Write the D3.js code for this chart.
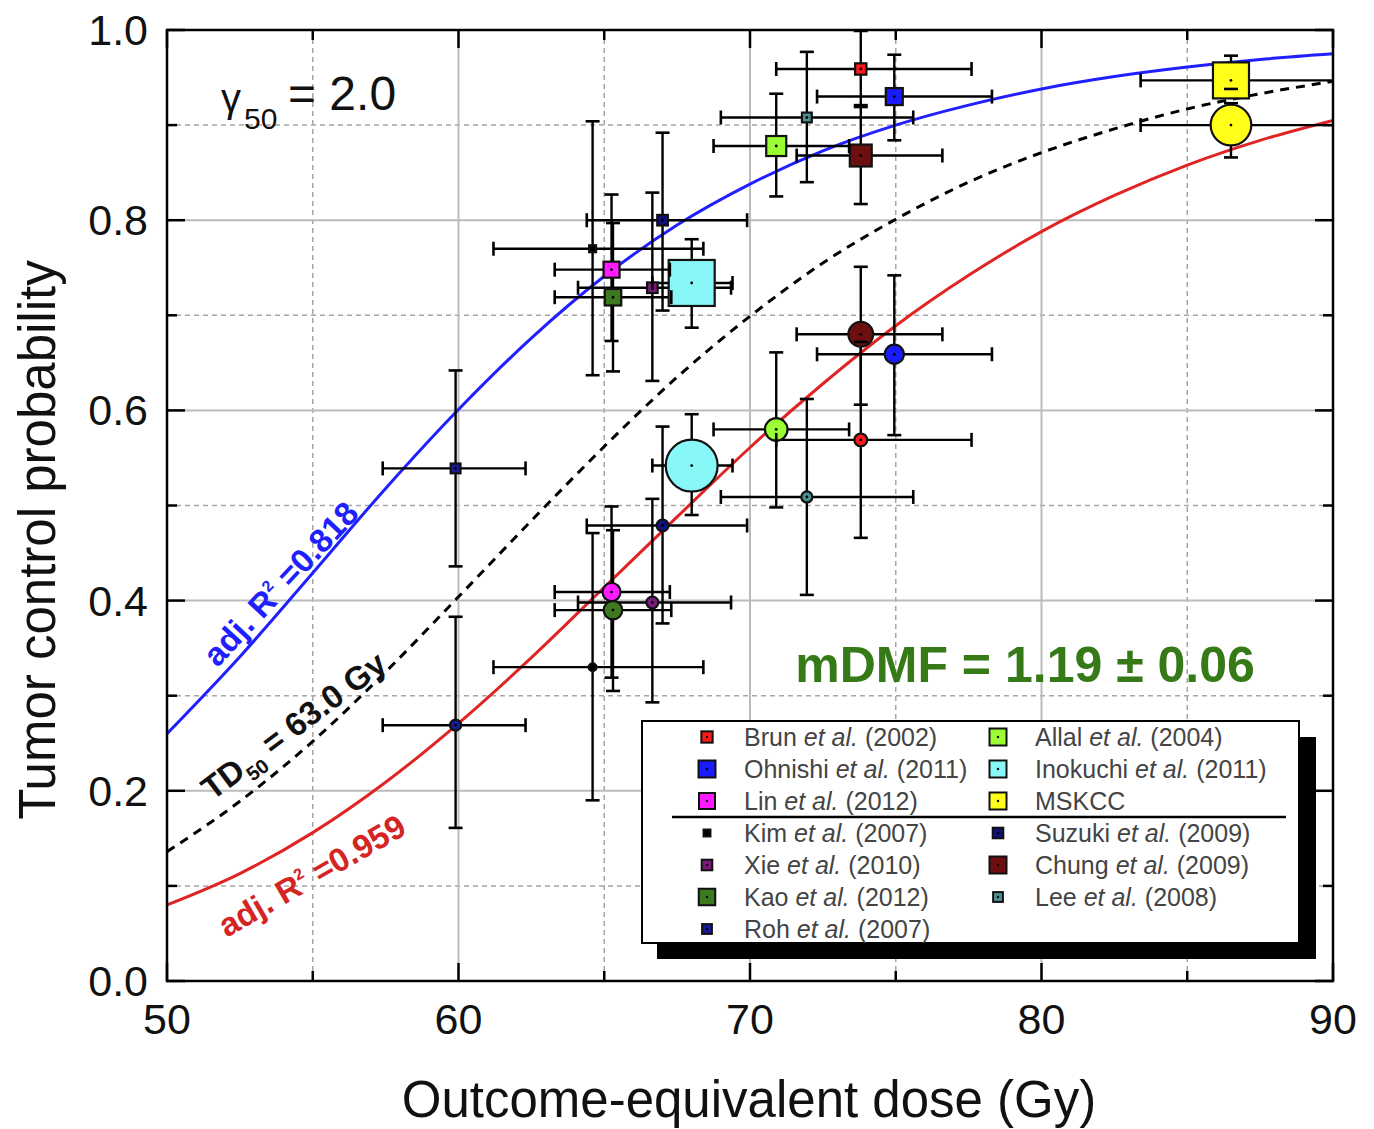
<!DOCTYPE html>
<html>
<head>
<meta charset="utf-8">
<script src="https://cdn.jsdelivr.net/npm/d3@7"></script>
<style>
  body { margin: 0; background: #fff; }
  text { font-family: 'Liberation Sans', Arial, sans-serif; }
</style>
</head>
<body>
<div id="chart"></div>
<script>
// ---- values ----
var studyAuthors = ['Brun', 'Ohnishi', 'Lin', 'Allal', 'Inokuchi', 'MSKCC', 'Kim', 'Xie', 'Kao', 'Roh', 'Suzuki', 'Chung', 'Lee']
var studyYears = ['2002', '2011', '2012', '2004', '2011', '', '2007', '2010', '2012', '2007', '2009', '2009', '2008']
// relative marker weight (symbol area)
var studyWeight = [8, 18, 16, 25, 132, 81, 3, 7, 17, 6, 7, 30, 6]

var doseMean = [73.8, 74.95, 65.25, 70.9, 68.0, 86.5, 64.6, 66.65, 65.3, 59.9, 67.0, 73.8, 71.95]
var doseLow = [70.9, 72.3, 63.3, 68.75, 66.65, 83.4, 61.2, 64.1, 63.3, 57.4, 64.4, 71.6, 69.0]
var doseHigh = [77.6, 78.3, 67.25, 73.4, 69.4, 90.6, 68.4, 69.35, 67.3, 62.3, 69.9, 76.6, 75.6]

// upper set (squares)
var tcpSquare = [0.959, 0.930, 0.748, 0.878, 0.734, 0.947, 0.770, 0.729, 0.719, 0.539, 0.800, 0.868, 0.908]
var tcpSquareLow = [0.919, 0.884, 0.673, 0.825, 0.687, 0.938, 0.637, 0.631, 0.641, 0.436, 0.705, 0.817, 0.840]
var tcpSquareHigh = [0.999, 0.974, 0.827, 0.933, 0.780, 0.973, 0.904, 0.829, 0.797, 0.642, 0.892, 0.921, 0.977]

// lower set (circles)
var tcpCircle = [0.569, 0.659, 0.409, 0.580, 0.542, 0.900, 0.330, 0.398, 0.390, 0.269, 0.479, 0.680, 0.509]
var tcpCircleLow = [0.466, 0.574, 0.319, 0.498, 0.490, 0.866, 0.190, 0.293, 0.305, 0.161, 0.376, 0.606, 0.406]
var tcpCircleHigh = [0.672, 0.742, 0.499, 0.661, 0.596, 0.923, 0.471, 0.507, 0.474, 0.383, 0.583, 0.751, 0.612]

// fitted curves, read every 2.5 Gy
var curveDose = [50, 52.5, 55, 57.5, 60, 62.5, 65, 67.5, 70, 72.5, 75, 77.5, 80, 82.5, 85, 87.5, 90]
var tcpBlueFit = [0.260, 0.341, 0.429, 0.518, 0.601, 0.676, 0.741, 0.795, 0.838, 0.873, 0.900, 0.921, 0.938, 0.951, 0.961, 0.969, 0.975]
var tcpMidFit = [0.136, 0.189, 0.252, 0.325, 0.404, 0.484, 0.562, 0.635, 0.699, 0.755, 0.801, 0.840, 0.871, 0.896, 0.917, 0.933, 0.946]
var tcpRedFit = [0.080, 0.113, 0.156, 0.209, 0.271, 0.340, 0.414, 0.488, 0.561, 0.628, 0.689, 0.742, 0.788, 0.826, 0.858, 0.884, 0.905]

var xTicks = [50, 60, 70, 80, 90]
var xMinor = [55, 65, 75, 85]
var yTicks = [0, 0.2, 0.4, 0.6, 0.8, 1.0]
var yMinor = [0.1, 0.3, 0.5, 0.7, 0.9]

// ---- styles ----
var studyColor = {
  Brun: '#ff1a1a', Ohnishi: '#1a1aff', Lin: '#ff1aff', Allal: '#99ff33',
  Inokuchi: '#88f7f7', MSKCC: '#ffff1a', Kim: '#000000', Xie: '#7a1a7a',
  Kao: '#3d7a1f', Roh: '#1a1a99', Suzuki: '#10107a', Chung: '#6e0f0f', Lee: '#4a9090'
}

var margin = { top: 30, right: 41, bottom: 148, left: 167 }
var width = 1374 - margin.left - margin.right
var height = 1129 - margin.top - margin.bottom

var svg = d3
  .select('#chart')
  .append('svg')
  .attr('width', 1374)
  .attr('height', 1129)

var g = svg.append('g').attr('transform', 'translate(' + margin.left + ',' + margin.top + ')')

var x = d3.scaleLinear().domain([50, 90]).range([0, width])
var y = d3.scaleLinear().domain([0, 1]).range([height, 0])
var sizeScale = d3.scaleSqrt().domain([0, 132]).range([0, 46])

g.append('clipPath').attr('id', 'plot-clip')
  .append('rect').attr('width', width).attr('height', height)

// grid
g.selectAll('.grid-x-minor').data(xMinor).enter().append('line')
  .attr('x1', d => x(d)).attr('x2', d => x(d)).attr('y1', 0).attr('y2', height)
  .attr('stroke', '#a6a6a6').attr('stroke-width', 1.5).attr('stroke-dasharray', '5,4')
g.selectAll('.grid-y-minor').data(yMinor).enter().append('line')
  .attr('y1', d => y(d)).attr('y2', d => y(d)).attr('x1', 0).attr('x2', width)
  .attr('stroke', '#a6a6a6').attr('stroke-width', 1.5).attr('stroke-dasharray', '5,4')
g.selectAll('.grid-x').data(xTicks.slice(1, -1)).enter().append('line')
  .attr('x1', d => x(d)).attr('x2', d => x(d)).attr('y1', 0).attr('y2', height)
  .attr('stroke', '#bbb').attr('stroke-width', 2)
g.selectAll('.grid-y').data(yTicks.slice(1, -1)).enter().append('line')
  .attr('y1', d => y(d)).attr('y2', d => y(d)).attr('x1', 0).attr('x2', width)
  .attr('stroke', '#bbb').attr('stroke-width', 2)

// fit curves
var plot = g.append('g').attr('clip-path', 'url(#plot-clip)')
var line = d3.line().x(d => x(d[0])).y(d => y(d[1])).curve(d3.curveMonotoneX)

plot.append('path').datum(d3.zip(curveDose, tcpBlueFit)).attr('d', line)
  .attr('fill', 'none').attr('stroke', '#2020ff').attr('stroke-width', 3)
plot.append('path').datum(d3.zip(curveDose, tcpRedFit)).attr('d', line)
  .attr('fill', 'none').attr('stroke', '#e02424').attr('stroke-width', 3)
plot.append('path').datum(d3.zip(curveDose, tcpMidFit)).attr('d', line)
  .attr('fill', 'none').attr('stroke', '#000').attr('stroke-width', 3).attr('stroke-dasharray', '9,7')

// build points for both sets
var points = []
studyAuthors.forEach((name, i) => {
  var base = { name: name, dose: doseMean[i], dLo: doseLow[i], dHi: doseHigh[i], size: sizeScale(studyWeight[i]) }
  points.push(Object.assign({ shape: 'square', p: tcpSquare[i], pLo: tcpSquareLow[i], pHi: tcpSquareHigh[i] }, base))
  points.push(Object.assign({ shape: 'circle', p: tcpCircle[i], pLo: tcpCircleLow[i], pHi: tcpCircleHigh[i] }, base))
})

var cap = 7

// error bar lines
points.forEach(d => {
  plot.append('line')
    .attr('x1', x(d.dLo)).attr('x2', x(d.dHi)).attr('y1', y(d.p)).attr('y2', y(d.p))
    .attr('stroke', '#000').attr('stroke-width', 2.4)
  plot.append('line')
    .attr('x1', x(d.dose)).attr('x2', x(d.dose)).attr('y1', y(d.pLo)).attr('y2', y(d.pHi))
    .attr('stroke', '#000').attr('stroke-width', 2.4)
})

// markers, big ones first
var sorted = points.slice().sort((a, b) => b.size - a.size)
sorted.forEach(d => {
  if (d.shape === 'square') {
    plot.append('rect')
      .attr('x', x(d.dose) - d.size / 2).attr('y', y(d.p) - d.size / 2)
      .attr('width', d.size).attr('height', d.size)
      .attr('fill', studyColor[d.name]).attr('stroke', '#111').attr('stroke-width', 2.2)
  } else {
    plot.append('circle')
      .attr('cx', x(d.dose)).attr('cy', y(d.p)).attr('r', d.size / Math.sqrt(Math.PI))
      .attr('fill', studyColor[d.name]).attr('stroke', '#111').attr('stroke-width', 2.2)
  }
})

// caps and centre dots
points.forEach(d => {
  [d.dLo, d.dHi].forEach(v => {
    plot.append('line')
      .attr('x1', x(v)).attr('x2', x(v)).attr('y1', y(d.p) - cap).attr('y2', y(d.p) + cap)
      .attr('stroke', '#000').attr('stroke-width', 2.6)
  })
  ;[d.pLo, d.pHi].forEach(v => {
    plot.append('line')
      .attr('x1', x(d.dose) - cap).attr('x2', x(d.dose) + cap).attr('y1', y(v)).attr('y2', y(v))
      .attr('stroke', '#000').attr('stroke-width', 2.6)
  })
  plot.append('circle').attr('cx', x(d.dose)).attr('cy', y(d.p)).attr('r', 1.4).attr('fill', '#000')
})

// frame and inward ticks on all sides
g.append('rect').attr('width', width).attr('height', height)
  .attr('fill', 'none').attr('stroke', '#000').attr('stroke-width', 2.5)

function tickLines(vals, len) {
  vals.forEach(v => {
    g.append('line').attr('x1', x(v)).attr('x2', x(v)).attr('y1', height).attr('y2', height - len).attr('stroke', '#000').attr('stroke-width', 2.5)
    g.append('line').attr('x1', x(v)).attr('x2', x(v)).attr('y1', 0).attr('y2', len).attr('stroke', '#000').attr('stroke-width', 2.5)
  })
}
function tickLinesY(vals, len) {
  vals.forEach(v => {
    g.append('line').attr('y1', y(v)).attr('y2', y(v)).attr('x1', 0).attr('x2', len).attr('stroke', '#000').attr('stroke-width', 2.5)
    g.append('line').attr('y1', y(v)).attr('y2', y(v)).attr('x1', width).attr('x2', width - len).attr('stroke', '#000').attr('stroke-width', 2.5)
  })
}
tickLines(xTicks, 18)
tickLines(xMinor, 10)
tickLinesY(yTicks, 18)
tickLinesY(yMinor, 10)

// tick labels
g.selectAll('.x-label').data(xTicks).enter().append('text')
  .attr('x', d => x(d)).attr('y', height + 53)
  .attr('text-anchor', 'middle').attr('font-size', 43).attr('fill', '#111')
  .text(d => d)
g.selectAll('.y-label').data(yTicks).enter().append('text')
  .attr('x', -19).attr('y', d => y(d) + 15)
  .attr('text-anchor', 'end').attr('font-size', 43).attr('fill', '#111')
  .text(d => d3.format('.1f')(d))

// axis titles
svg.append('text')
  .attr('x', margin.left + width / 2 - 1).attr('y', 1117)
  .attr('text-anchor', 'middle').attr('font-size', 51).attr('fill', '#111')
  .text('Outcome-equivalent dose (Gy)')
svg.append('text')
  .attr('transform', 'translate(55,540) rotate(-90)')
  .attr('text-anchor', 'middle').attr('font-size', 51).attr('fill', '#111')
  .text('Tumor control probability')

// gamma_50 annotation
var gam = svg.append('text').attr('fill', '#111')
gam.append('tspan').attr('x', 221).attr('y', 112).attr('font-size', 40).text('\u03b3')
gam.append('tspan').attr('x', 244).attr('y', 129).attr('font-size', 30).text('50')
gam.append('tspan').attr('x', 288).attr('y', 110).attr('font-size', 48).text('= 2.0')

// mDMF
svg.append('text')
  .attr('x', 1025).attr('y', 682).attr('text-anchor', 'middle')
  .attr('font-size', 50).attr('font-weight', 'bold').attr('fill', '#367a17')
  .text('mDMF = 1.19 \u00b1 0.06')

// rotated curve labels
function rotLabel(cx, cy, angle, color, parts) {
  var t = svg.append('g').attr('transform', 'translate(' + cx + ',' + cy + ') rotate(' + angle + ')')
    .append('text').attr('text-anchor', 'middle').attr('y', 11)
    .attr('font-size', 33).attr('font-weight', 'bold').attr('fill', color)
  parts.forEach(p => {
    var s = t.append('tspan').text(p.t)
    if (p.dy) s.attr('dy', p.dy)
    if (p.fs) s.attr('font-size', p.fs)
  })
}
rotLabel(281, 584, -47, '#2020ff', [{ t: 'adj. R' }, { t: '2', dy: -14, fs: 16 }, { t: ' =0.818', dy: 14 }])
rotLabel(294, 726, -37, '#111', [{ t: 'TD' }, { t: '50', dy: 9, fs: 20 }, { t: ' = 63.0 Gy', dy: -9 }])
rotLabel(312, 876, -30, '#d42424', [{ t: 'adj. R' }, { t: '2', dy: -14, fs: 16 }, { t: ' =0.959', dy: 14 }])

// legend
var legend = svg.append('g')
legend.append('rect').attr('x', 657).attr('y', 737).attr('width', 659).attr('height', 222).attr('fill', '#000')
legend.append('rect').attr('x', 642).attr('y', 721).attr('width', 657).attr('height', 222)
  .attr('fill', '#fff').attr('stroke', '#000').attr('stroke-width', 2)
legend.append('line').attr('x1', 672).attr('x2', 1286).attr('y1', 817).attr('y2', 817)
  .attr('stroke', '#000').attr('stroke-width', 2.5)

var legendCols = [[0, 1, 2, 6, 7, 8, 9], [3, 4, 5, 10, 11, 12]]
var colX = [707, 998]
legendCols.forEach((col, c) => {
  col.forEach((idx, r) => {
    var cy = 737 + r * 32
    var s = Math.min(sizeScale(studyWeight[idx]), 17)
    var name = studyAuthors[idx]
    legend.append('rect').attr('x', colX[c] - s / 2).attr('y', cy - s / 2).attr('width', s).attr('height', s)
      .attr('fill', studyColor[name]).attr('stroke', '#111').attr('stroke-width', 2)
    legend.append('circle').attr('cx', colX[c]).attr('cy', cy).attr('r', 1.2).attr('fill', '#000')
    var t = legend.append('text').attr('x', colX[c] + 37).attr('y', cy + 9)
      .attr('font-size', 25).attr('fill', '#444')
    if (studyYears[idx]) {
      t.append('tspan').text(name + ' ')
      t.append('tspan').attr('font-style', 'italic').text('et al.')
      t.append('tspan').text(' (' + studyYears[idx] + ')')
    } else {
      t.text(name)
    }
  })
})
</script>
</body>
</html>
